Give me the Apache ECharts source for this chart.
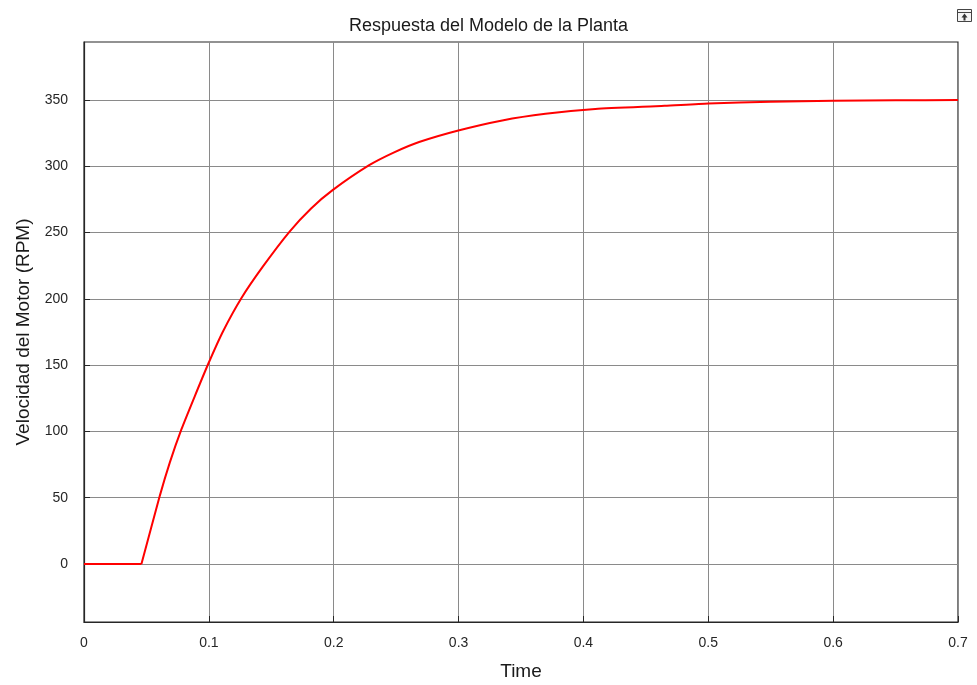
<!DOCTYPE html>
<html>
<head>
<meta charset="utf-8">
<script src="https://cdn.jsdelivr.net/npm/echarts@6/dist/echarts.min.js"></script>
<style>
  html, body { margin: 0; padding: 0; background: #fff; }
  #chartMain { width: 977px; height: 685px; }
</style>
</head>
<body>
<div id="chartMain"></div>
<script>
// tiempo (s) y velocidad (RPM)
const timeVals = [0, 0.046, 0.0607, 0.0687, 0.078, 0.0887, 0.0998, 0.1113, 0.126, 0.1432, 0.1645, 0.1819, 0.1991, 0.2284, 0.2484, 0.2684, 0.2998, 0.335, 0.3696, 0.4095, 0.465, 0.5, 0.55, 0.6, 0.65, 0.7];
const speedVals = [0, 0, 51.4, 76.5, 101.5, 126.5, 151.6, 175.4, 200.5, 224.3, 250.6, 268.2, 282, 300.8, 310.5, 318.3, 327, 334.6, 339.6, 343.2, 345.6, 347.4, 348.6, 349.4, 349.8, 350];
const yTicks = [0, 50, 100, 150, 200, 250, 300, 350];
const stepIndex = 1; // punto donde arranca la subida

const fontName = 'Liberation Sans, Arial, sans-serif';
const points = timeVals.map((t, i) => [t, speedVals[i]]);
const myChart = echarts.init(document.getElementById('chartMain'));

myChart.setOption({
    animation: false,
    title: {
        text: 'Respuesta del Modelo de la Planta',
        left: 'center',
        top: 12,
        textStyle: { fontFamily: fontName, fontSize: 18, fontWeight: 'normal', color: '#1a1a1a' }
    },
    grid: {
        left: 84, right: 19, top: 42, bottom: 63,
        outerBoundsMode: 'none',
        show: true, borderColor: '#262626', borderWidth: 1.2
    },
    xAxis: {
        type: 'value',
        min: 0, max: 0.7, interval: 0.1,
        name: 'Time',
        nameLocation: 'middle',
        nameGap: 40,
        nameTextStyle: { fontFamily: fontName, fontSize: 19, color: '#1a1a1a' },
        axisLine: { onZero: false, lineStyle: { color: '#262626', width: 1.2 } },
        axisTick: { inside: true, length: 6, lineStyle: { color: '#262626' } },
        axisLabel: { fontFamily: fontName, fontSize: 14, color: '#262626', margin: 14 },
        splitLine: { show: true, lineStyle: { color: '#8a8a8a', width: 1 } }
    },
    yAxis: {
        type: 'value',
        min: -43.75, max: 393.75,
        name: 'Velocidad del Motor (RPM)',
        nameLocation: 'middle',
        nameGap: 46,
        nameTextStyle: { fontFamily: fontName, fontSize: 19, color: '#1a1a1a' },
        axisLine: { onZero: false, lineStyle: { color: '#262626', width: 1.2 } },
        axisTick: { inside: true, length: 6, customValues: yTicks, lineStyle: { color: '#262626' } },
        axisLabel: { fontFamily: fontName, fontSize: 14, color: '#262626', margin: 16, customValues: yTicks },
        splitLine: { show: true, lineStyle: { color: '#8a8a8a', width: 1 } }
    },
    graphic: [{
        type: 'group', right: 3, top: 9,
        children: [
            { type: 'rect', shape: { x: 0, y: 0, width: 14, height: 12 }, style: { fill: '#f4f4f4', stroke: '#444', lineWidth: 1 } },
            { type: 'line', shape: { x1: 0, y1: 3, x2: 14, y2: 3 }, style: { stroke: '#444', lineWidth: 1 } },
            { type: 'polygon', shape: { points: [[7, 4], [10, 8], [8, 8], [8, 11], [6, 11], [6, 8], [4, 8]] }, style: { fill: '#333' } }
        ]
    }],
    series: [{
        type: 'line',
        data: points.slice(0, stepIndex + 1),
        showSymbol: false,
        lineStyle: { color: '#ff0000', width: 2 },
        z: 5
    }, {
        type: 'line',
        data: points.slice(stepIndex),
        showSymbol: false,
        smooth: 0.2,
        lineStyle: { color: '#ff0000', width: 2 },
        z: 5
    }]
});
</script>
</body>
</html>
